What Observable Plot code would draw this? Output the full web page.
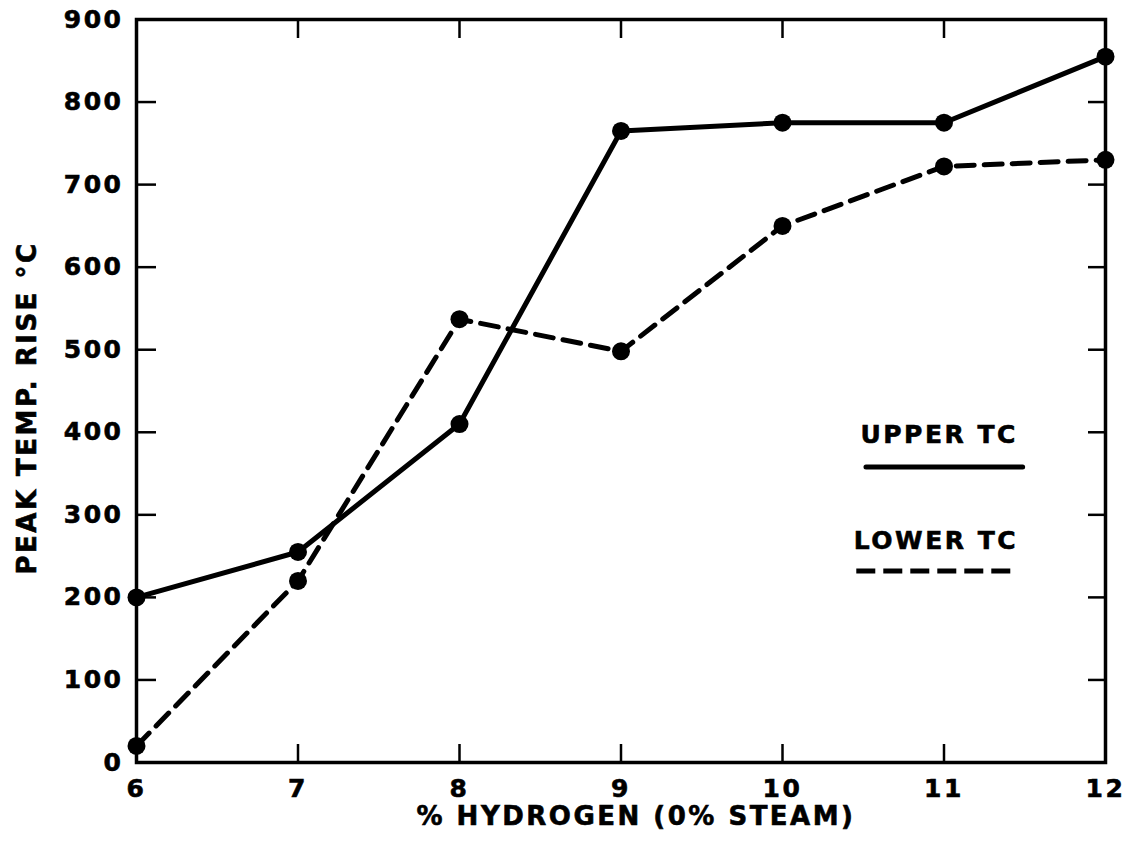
<!DOCTYPE html>
<html>
<head>
<meta charset="utf-8">
<script src="https://cdn.jsdelivr.net/npm/d3@7"></script>
<script src="https://cdn.jsdelivr.net/npm/@observablehq/plot@0.6"></script>
<style>
  html, body { margin: 0; padding: 0; background: white; }
  #chart svg text { stroke: black; stroke-width: 0.6px; }
</style>
</head>
<body>
<div id="chart"></div>
<script>
// Data
const hydrogen = [6, 7, 8, 9, 10, 11, 12];
const upperTC = [200, 255, 410, 765, 775, 775, 855];
const lowerTC = [20, 220, 537, 498, 650, 722, 730];

const xTicks = [6, 7, 8, 9, 10, 11, 12];
const yTicks = [0, 100, 200, 300, 400, 500, 600, 700, 800, 900];

const xLabel = "% HYDROGEN (0% STEAM)";
const yLabel = "PEAK TEMP. RISE °C";

// Legend (in data coordinates)
const legendLabels = ["UPPER TC", "LOWER TC"];
const legendTextX = [10.97, 10.95];
const legendTextY = [397, 268];
const legendLineX1 = [10.52, 10.46];
const legendLineX2 = [11.49, 11.45];
const legendLineY = [358, 232];

const upperData = hydrogen.map((h, i) => ({h, v: upperTC[i]}));
const lowerData = hydrogen.map((h, i) => ({h, v: lowerTC[i]}));
const legendData = legendLabels.map((label, i) => ({
  label, tx: legendTextX[i], ty: legendTextY[i],
  x1: legendLineX1[i], x2: legendLineX2[i], y: legendLineY[i]
}));

const tickW = 2.5;
const fmt = d => String(d);

const chart = Plot.plot({
  width: 1128,
  height: 841,
  marginLeft: 136,
  marginRight: 23,
  marginTop: 19,
  marginBottom: 79,
  style: {
    fontFamily: "DejaVu Sans",
    fontWeight: "bold",
    fontSize: "25px",
    letterSpacing: "2.5px",
    color: "black",
    background: "white"
  },
  x: {domain: [6, 12], ticks: xTicks},
  y: {domain: [0, 900], ticks: yTicks},
  marks: [
    // inward tick marks on all four sides
    Plot.axisX(xTicks, {anchor: "bottom", tickSize: -18, text: null, strokeWidth: tickW, label: null}),
    Plot.axisX(xTicks, {anchor: "top", tickSize: -18, text: null, strokeWidth: tickW, label: null}),
    Plot.axisY(yTicks, {anchor: "left", tickSize: -20, text: null, strokeWidth: tickW, label: null}),
    Plot.axisY(yTicks, {anchor: "right", tickSize: -18, text: null, strokeWidth: tickW, label: null}),
    // tick labels
    Plot.axisX(xTicks, {anchor: "bottom", tickSize: 0, tickPadding: 17, label: null, fill: "black", tickFormat: fmt}),
    Plot.axisY(yTicks, {anchor: "left", tickSize: 0, tickPadding: 13, label: null, fill: "black", tickFormat: fmt}),
    Plot.frame({stroke: "black", strokeWidth: 3.5}),
    // axis titles
    Plot.text([xLabel], {frameAnchor: "bottom", dy: 54, dx: 15, textAnchor: "middle", lineAnchor: "middle", fill: "black", fontSize: 26}),
    Plot.text([yLabel], {frameAnchor: "left", dx: -109, dy: 17, rotate: -90, textAnchor: "middle", lineAnchor: "middle", fill: "black", fontSize: 26}),
    // series
    Plot.line(upperData, {x: "h", y: "v", stroke: "black", strokeWidth: 5}),
    Plot.line(lowerData, {x: "h", y: "v", stroke: "black", strokeWidth: 5, strokeDasharray: "18,10"}),
    Plot.dot(upperData, {x: "h", y: "v", r: 9, fill: "black"}),
    Plot.dot(lowerData, {x: "h", y: "v", r: 9, fill: "black"}),
    // legend
    Plot.text(legendData, {x: "tx", y: "ty", text: "label", fill: "black"}),
    Plot.ruleY(legendData.slice(0, 1), {y: "y", x1: "x1", x2: "x2", stroke: "black", strokeWidth: 5, strokeLinecap: "round"}),
    Plot.ruleY(legendData.slice(1, 2), {y: "y", x1: "x1", x2: "x2", stroke: "black", strokeWidth: 5, strokeDasharray: "19,8"})
  ]
});

document.getElementById("chart").appendChild(chart);
</script>
</body>
</html>
